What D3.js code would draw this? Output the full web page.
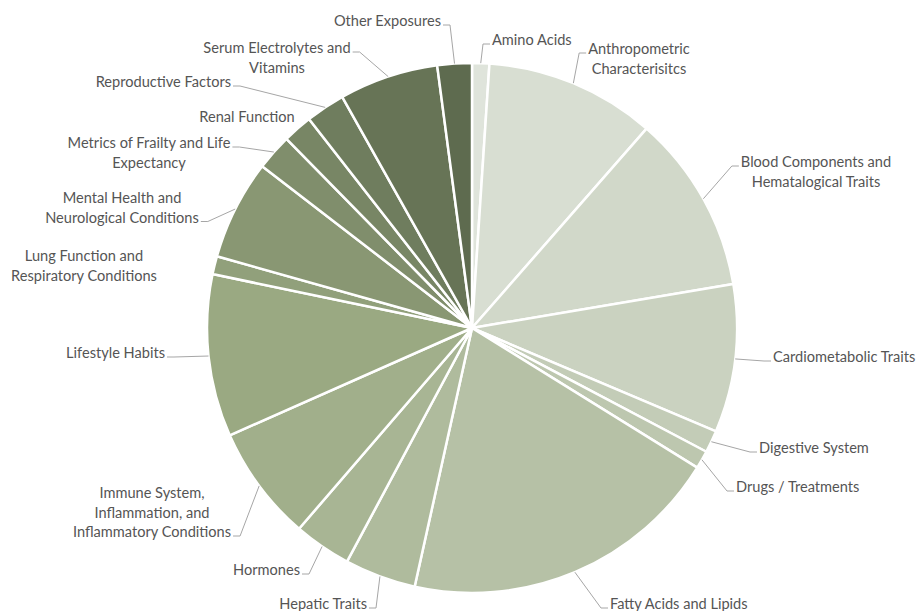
<!DOCTYPE html>
<html><head><meta charset="utf-8">
<script src="https://cdn.jsdelivr.net/npm/d3@7"></script>
<style>
html,body{margin:0;padding:0;background:#fff;}
svg{display:block;}
text{font-family:Lato,"Open Sans",sans-serif;fill:#555555;}
</style></head>
<body>
<svg id="chart" width="919" height="611"></svg>
<script>
// ---- data ----
const categories = [
  "Amino Acids","Anthropometric Characterisitcs","Blood Components and Hematalogical Traits",
  "Cardiometabolic Traits","Digestive System","Drugs / Treatments","Fatty Acids and Lipids",
  "Hepatic Traits","Hormones","Immune System, Inflammation, and Inflammatory Conditions",
  "Lifestyle Habits","Lung Function and Respiratory Conditions","Mental Health and Neurological Conditions",
  "Metrics of Frailty and Life Expectancy","Renal Function","Reproductive Factors",
  "Serum Electrolytes and Vitamins","Other Exposures"
];
const values = [1.05,10.4,10.9,9.05,1.35,1.1,19.65,4.35,3.5,7.05,9.9,1.1,6.1,2.2,1.8,2.4,6.05,2.1];
const labelLines = [
  ["Amino Acids"],["Anthropometric","Characterisitcs"],["Blood Components and","Hematalogical Traits"],
  ["Cardiometabolic Traits"],["Digestive System"],["Drugs / Treatments"],["Fatty Acids and Lipids"],
  ["Hepatic Traits"],["Hormones"],["Immune System,","Inflammation, and","Inflammatory Conditions"],
  ["Lifestyle Habits"],["Lung Function and","Respiratory Conditions"],["Mental Health and","Neurological Conditions"],
  ["Metrics of Frailty and Life","Expectancy"],["Renal Function"],["Reproductive Factors"],
  ["Serum Electrolytes and","Vitamins"],["Other Exposures"]
];

// ---- layout (label placement) ----
const labelLayout = [
  {x:492,y:40,a:"start",lead:true},
  {x:639,y:49,a:"middle",lead:true},
  {x:816,y:162,a:"middle",lead:true},
  {x:773,y:357,a:"start",lead:true},
  {x:759,y:448,a:"start",lead:true},
  {x:736,y:487,a:"start",lead:true},
  {x:610,y:604,a:"start",lead:true},
  {x:367,y:604,a:"end",lead:true},
  {x:300,y:570,a:"end",lead:true},
  {x:152,y:493,a:"middle",lead:true},
  {x:165,y:353,a:"end",lead:true},
  {x:84,y:256,a:"middle",lead:false},
  {x:122,y:198,a:"middle",lead:true},
  {x:149,y:143,a:"middle",lead:true},
  {x:247,y:117,a:"middle",lead:false},
  {x:231,y:82,a:"end",lead:true},
  {x:277,y:48,a:"middle",lead:true},
  {x:441,y:21,a:"end",lead:true}
];

const W=919,H=611,cx=472,cy=328,R=265,lineH=19.5,fs=14.6;
const svg=d3.select("#chart");
const g=svg.append("g").attr("transform",`translate(${cx},${cy})`);

const pie=d3.pie().sort(null).value(d=>d);
const arcs=pie(values);
const arc=d3.arc().innerRadius(0).outerRadius(R);
const n=categories.length;
const color=d3.scaleLinear().domain([0,10,n-1])
  .range(["#dfe4db","#9aa982","#5e6b4f"]).interpolate(d3.interpolateRgb);

g.selectAll("path.slice").data(arcs).enter().append("path")
  .attr("class","slice").attr("d",arc)
  .attr("fill",(d,i)=>color(i))
  .attr("stroke","#fff").attr("stroke-width",2.5).attr("stroke-linejoin","round");

// labels
const lg=svg.append("g");
arcs.forEach((d,i)=>{
  const L=labelLayout[i], lines=labelLines[i];
  const t=lg.append("text").attr("text-anchor",L.a).attr("font-size",fs);
  const spans=lines.map((s,k)=>t.append("tspan").attr("x",L.x).attr("y",L.y+k*lineH).attr("dy","0.35em").text(s));
  if(!L.lead) return;
  let wi=0,ww=0;
  spans.forEach((sp,k)=>{const w=sp.node().getComputedTextLength(); if(w>ww){ww=w;wi=k;}});
  const ly=L.y+wi*lineH;
  const mid=(d.startAngle+d.endAngle)/2;
  const px=cx+R*Math.sin(mid), py=cy-R*Math.cos(mid);
  let left,right;
  if(L.a==="start"){left=L.x;right=L.x+ww;}
  else if(L.a==="end"){left=L.x-ww;right=L.x;}
  else {left=L.x-ww/2;right=L.x+ww/2;}
  const onRight = px>right;
  const ex = onRight ? right+2 : left-2;
  const sx = onRight ? ex+7 : ex-7;
  lg.append("polyline")
    .attr("points",`${ex},${ly+4} ${sx},${ly+4} ${px},${py}`)
    .attr("fill","none").attr("stroke","#a6a6a6").attr("stroke-width",1);
});
</script>
</body></html>
